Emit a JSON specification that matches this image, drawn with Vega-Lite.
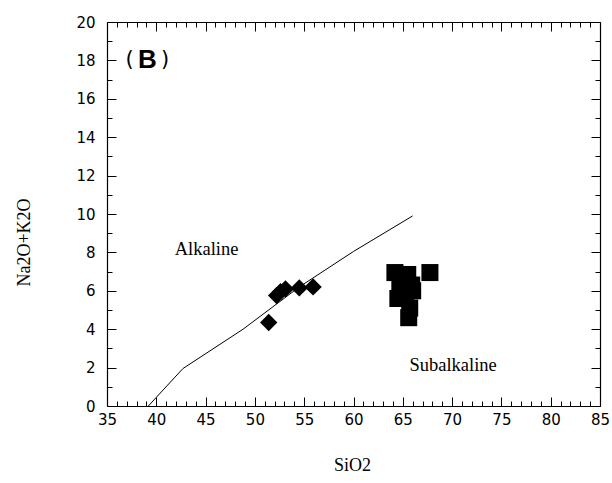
{
  "$schema": "https://vega.github.io/schema/vega-lite/v6.json",
  "width": 493,
  "height": 384,
  "autosize": "none",
  "padding": {"left": 107, "top": 22, "right": 12, "bottom": 77},
  "background": "white",
  "config": {
    "view": {"stroke": null},
    "axis": {
      "grid": false,
      "domainColor": "black",
      "domainWidth": 1.2,
      "tickColor": "black",
      "tickWidth": 1,
      "labelColor": "black",
      "labelFont": "DejaVu Sans",
      "labelFontSize": 15,
      "labelOverlap": false,
      "labelFlush": false,
      "titleColor": "black",
      "titleFont": "Liberation Serif",
      "titleFontSize": 18,
      "titleFontWeight": "normal"
    }
  },
  "datasets": {
    "boundary": [
      {"x": 39.2, "y": 0},
      {"x": 40.0, "y": 0.45},
      {"x": 42.7, "y": 1.95},
      {"x": 48.8, "y": 4.0},
      {"x": 54.5, "y": 6.2},
      {"x": 60.0, "y": 8.05},
      {"x": 66.0, "y": 9.9}
    ],
    "diamonds": [
      {"x": 51.4, "y": 4.35},
      {"x": 52.2, "y": 5.75},
      {"x": 52.6, "y": 5.95},
      {"x": 53.1, "y": 6.1},
      {"x": 54.5, "y": 6.15},
      {"x": 55.9, "y": 6.2}
    ],
    "squares": [
      {"x": 64.2, "y": 6.95},
      {"x": 65.5, "y": 6.85},
      {"x": 67.75, "y": 6.95},
      {"x": 64.7, "y": 6.4},
      {"x": 65.9, "y": 6.3},
      {"x": 66.0, "y": 6.0},
      {"x": 64.5, "y": 5.6},
      {"x": 65.3, "y": 5.7},
      {"x": 65.7, "y": 5.1},
      {"x": 65.6, "y": 4.6}
    ],
    "labels": [
      {"x": 45.1, "y": 8.17, "text": "Alkaline"},
      {"x": 70.1, "y": 2.13, "text": "Subalkaline"}
    ],
    "parens": [
      {"x": 37.3, "y": 18.0, "text": "("},
      {"x": 40.9, "y": 18.0, "text": ")"}
    ],
    "letter": [
      {"x": 39.1, "y": 18.0, "text": "B"}
    ]
  },
  "layer": [
    {
      "data": {"name": "boundary"},
      "mark": {"type": "line", "color": "black", "strokeWidth": 1},
      "encoding": {
        "x": {
          "field": "x", "type": "quantitative",
          "scale": {"domain": [35, 85], "nice": false, "zero": false},
          "axis": {
            "orient": "bottom",
            "values": [35,36,37,38,39,40,41,42,43,44,45,46,47,48,49,50,51,52,53,54,55,56,57,58,59,60,61,62,63,64,65,66,67,68,69,70,71,72,73,74,75,76,77,78,79,80,81,82,83,84,85],
            "tickSize": {"condition": {"test": "datum.value % 5 === 0", "value": -9}, "value": -5},
            "labelExpr": "datum.value % 5 === 0 ? datum.label : ''",
            "labelPadding": 15,
            "title": "SiO2",
            "titleX": 245,
            "titleY": 59,
            "titleBaseline": "middle",
            "titleAnchor": "middle"
          }
        },
        "y": {
          "field": "y", "type": "quantitative",
          "scale": {"domain": [0, 20], "nice": false, "zero": false},
          "axis": {
            "orient": "left",
            "values": [0,1,2,3,4,5,6,7,8,9,10,11,12,13,14,15,16,17,18,19,20],
            "tickSize": {"condition": {"test": "datum.value % 2 === 0", "value": -9}, "value": -5},
            "labelExpr": "datum.value % 2 === 0 ? datum.label : ''",
            "labelPadding": 21,
            "title": "Na2O+K2O",
            "titleX": -83,
            "titleY": 220,
            "titleBaseline": "middle",
            "titleAnchor": "middle"
          }
        }
      }
    },
    {
      "data": {"name": "diamonds"},
      "mark": {"type": "point", "shape": "diamond", "filled": true, "color": "black", "opacity": 1, "size": 300},
      "encoding": {
        "x": {
          "field": "x", "type": "quantitative",
          "axis": {
            "orient": "top",
            "values": [35,36,37,38,39,40,41,42,43,44,45,46,47,48,49,50,51,52,53,54,55,56,57,58,59,60,61,62,63,64,65,66,67,68,69,70,71,72,73,74,75,76,77,78,79,80,81,82,83,84,85],
            "tickSize": {"condition": {"test": "datum.value % 5 === 0", "value": -9}, "value": -5},
            "labels": false,
            "title": null
          }
        },
        "y": {
          "field": "y", "type": "quantitative",
          "axis": {
            "orient": "right",
            "values": [0,1,2,3,4,5,6,7,8,9,10,11,12,13,14,15,16,17,18,19,20],
            "tickSize": {"condition": {"test": "datum.value % 2 === 0", "value": -9}, "value": -5},
            "labels": false,
            "title": null
          }
        }
      }
    },
    {
      "data": {"name": "squares"},
      "mark": {"type": "point", "shape": "square", "filled": true, "color": "black", "opacity": 1, "size": 290},
      "encoding": {
        "x": {"field": "x", "type": "quantitative", "axis": null},
        "y": {"field": "y", "type": "quantitative", "axis": null}
      }
    },
    {
      "data": {"name": "labels"},
      "mark": {"type": "text", "font": "Liberation Serif", "fontSize": 18.5, "color": "black", "align": "center", "baseline": "middle"},
      "encoding": {
        "x": {"field": "x", "type": "quantitative", "axis": null},
        "y": {"field": "y", "type": "quantitative", "axis": null},
        "text": {"field": "text"}
      }
    },
    {
      "data": {"name": "parens"},
      "mark": {"type": "text", "font": "DejaVu Sans", "fontSize": 21, "color": "black", "align": "center", "baseline": "middle"},
      "encoding": {
        "x": {"field": "x", "type": "quantitative", "axis": null},
        "y": {"field": "y", "type": "quantitative", "axis": null},
        "text": {"field": "text"}
      }
    },
    {
      "data": {"name": "letter"},
      "mark": {"type": "text", "font": "Liberation Sans", "fontSize": 26, "fontWeight": "bold", "color": "black", "align": "center", "baseline": "middle"},
      "encoding": {
        "x": {"field": "x", "type": "quantitative", "axis": null},
        "y": {"field": "y", "type": "quantitative", "axis": null},
        "text": {"field": "text"}
      }
    }
  ]
}
